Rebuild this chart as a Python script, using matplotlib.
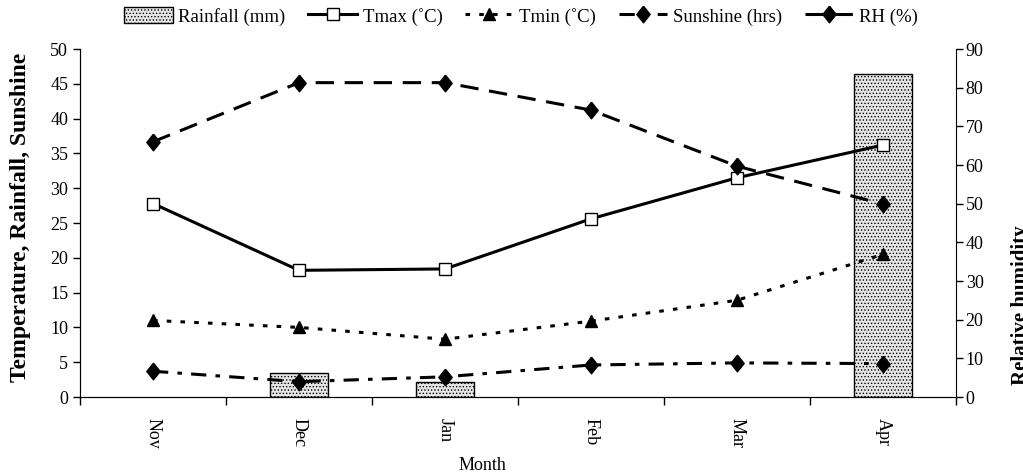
import matplotlib
matplotlib.use('Agg')
import matplotlib.pyplot as plt
import numpy as np

# Monthly weather data
months = ['Nov', 'Dec', 'Jan', 'Feb', 'Mar', 'Apr']
rainfall = [0, 3.4, 2.1, 0, 0, 46.4]
tmax = [27.8, 18.2, 18.4, 25.6, 31.5, 36.2]
tmin = [11.0, 10.0, 8.3, 10.9, 13.9, 20.5]
sunshine = [3.7, 2.2, 2.9, 4.6, 4.9, 4.8]
rh = [66.0, 81.3, 81.3, 74.2, 59.7, 49.9]

plt.rcParams['font.family'] = ['Liberation Serif', 'DejaVu Serif']
plt.rcParams['hatch.linewidth'] = 0.6

# slightly tall diamond like the original
diamond = [(0, 1), (0.8, 0), (0, -1), (-0.8, 0), (0, 1)]

fig = plt.figure(figsize=(10.23, 4.76), dpi=100)
ax = fig.add_axes([80/1023, 79/476, 876/1023, 348/476])
ax2 = ax.twinx()

x = np.arange(len(months))
rain = np.array(rainfall, dtype=float)
rain[rain == 0] = np.nan  # no bar for dry months

# Rainfall bars
bars = ax.bar(x, rain, width=0.4, facecolor='#e6e6e6', edgecolor='black',
              hatch='.....', linewidth=1, label='Rainfall (mm)', zorder=1)

# Lines on left axis
l_tmax, = ax.plot(x, tmax, color='black', lw=2.2, marker='s', markersize=8,
                  markerfacecolor='white', markeredgecolor='black', markeredgewidth=1,
                  label='Tmax (\u02daC)', zorder=3)
l_tmin, = ax.plot(x, tmin, color='black', lw=2.2, dashes=(1.5, 3), marker='^',
                  markersize=9, label='Tmin (\u02daC)', zorder=3)
l_sun, = ax.plot(x, sunshine, color='black', lw=2.2, dashes=(5, 3, 1.5, 3),
                 marker=diamond, markersize=12, label='Sunshine (hrs)', zorder=3)

# RH on right axis
l_rh, = ax2.plot(x, rh, color='black', lw=2.2, dashes=(6, 3.5), marker=diamond,
                 markersize=12, label='RH (%)', zorder=3)

ax.set_xlim(-0.5, 5.5)
ax.set_ylim(0, 50)
ax.set_yticks(np.arange(0, 51, 5))
ax2.set_ylim(0, 90)
ax2.set_yticks(np.arange(0, 91, 10))

# month labels at centres, tick marks at boundaries
ax.set_xticks(x)
ax.set_xticklabels(months, rotation=-90, fontsize=13)
ax.set_xticks(np.arange(-0.5, 6, 1), minor=True)
ax.tick_params(axis='x', which='major', length=0, pad=15)
ax.tick_params(axis='x', which='minor', length=6, width=1, direction='out')
ax.tick_params(axis='y', length=5, width=1, direction='out', labelsize=13)
ax2.tick_params(axis='y', length=5, width=1, direction='out', labelsize=13, pad=2)

for a in (ax, ax2):
    a.spines['top'].set_visible(False)
ax.spines['right'].set_visible(False)

fig.text(21/1023, 1 - 217/476, 'Temperature, Rainfall, Sunshine', rotation=90,
         ha='center', va='center', fontsize=17, fontweight='bold')
fig.text(1021/1023, 1 - 305/476, 'Relative humidity', rotation=90,
         ha='center', va='center', fontsize=15, fontweight='bold')
fig.text(482/1023, 1 - 466/476, 'Month', ha='center', va='center', fontsize=13)

handles = [bars, l_tmax, l_tmin, l_sun, l_rh]
fig.legend(handles, [h.get_label() for h in handles], loc='upper center',
           bbox_to_anchor=(521/1023, 1.02), ncol=5, frameon=False, fontsize=13.5,
           handlelength=2.6, handletextpad=0.3, columnspacing=1.2,
           handleheight=0.9)

fig.savefig('out.png', dpi=100)
